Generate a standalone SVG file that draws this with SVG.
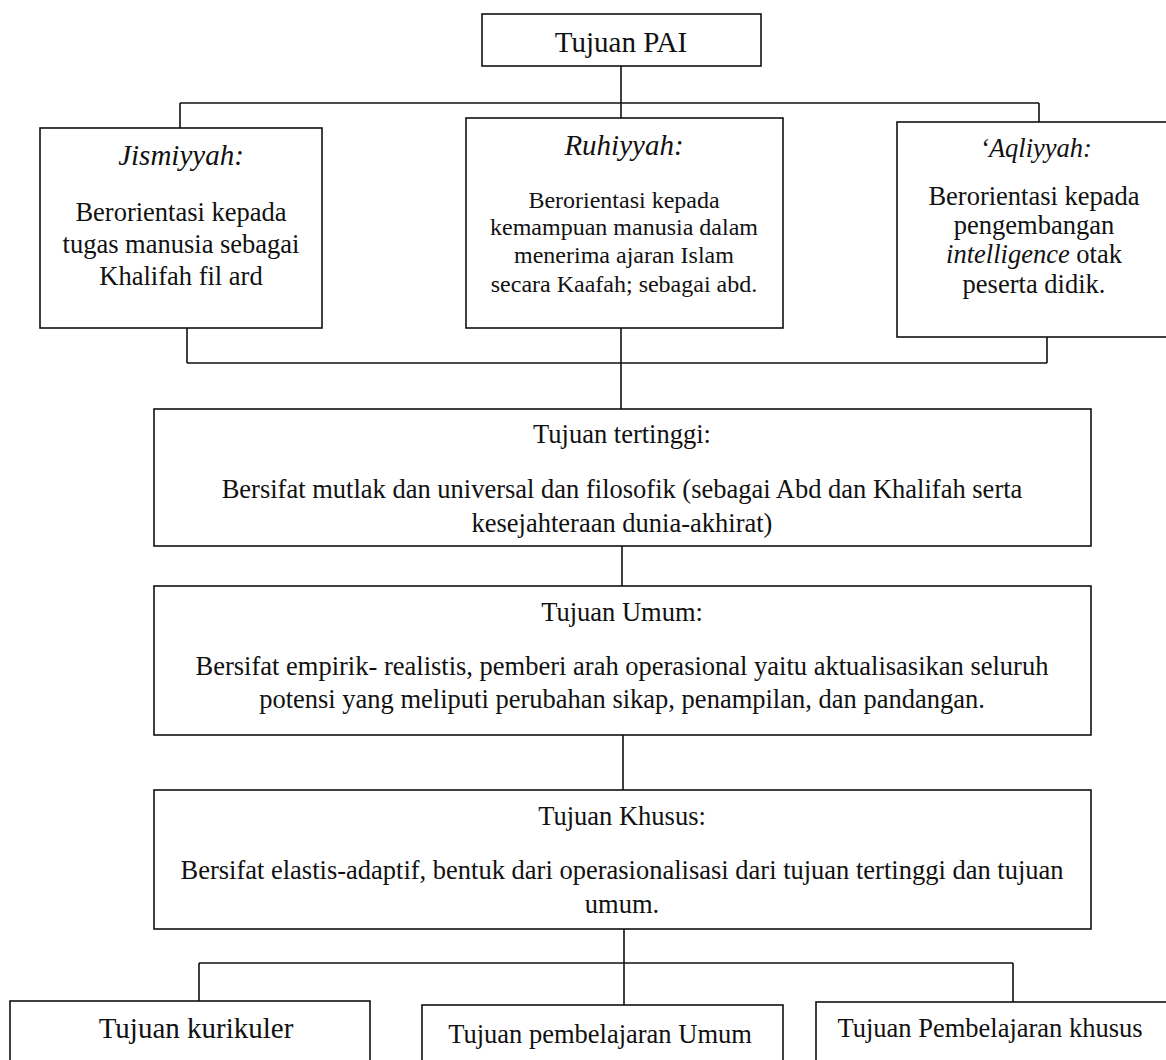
<svg xmlns="http://www.w3.org/2000/svg" width="1166" height="1060" viewBox="0 0 1166 1060">
<style>
.box{fill:#fff;stroke:#111;stroke-width:1.6}
.ln{fill:none;stroke:#111;stroke-width:1.6}
text{font-family:"Liberation Serif","Times New Roman",serif;fill:#111;text-anchor:middle}
.t29{font-size:29px}
.t27{font-size:26.5px}
.t24{font-size:24px}
.it{font-style:italic}
</style>
<rect width="1166" height="1060" fill="#fff"/>
<g id="connectors">
<path class="ln" d="M621,66 V118 M180,103 H1039 M180,103 V128 M1039,103 V122"/>
<path class="ln" d="M187,328 V363 M187,363 H1047 M1047,337 V363 M621,328 V409"/>
<path class="ln" d="M622,546 V586 M623,735 V790"/>
<path class="ln" d="M624,929 V1005 M199,963 H1013 M199,963 V1001 M1013,963 V1002"/>
</g>
<g id="node-pai">
<rect class="box" x="482" y="14" width="279" height="52"/>
<text class="t29" x="621" y="52">Tujuan PAI</text>
</g>
<g id="node-jismiyyah">
<rect class="box" x="40" y="128" width="282" height="200"/>
<text class="t29 it" x="181" y="165">Jismiyyah:</text>
<text class="t27" x="181" y="221">Berorientasi kepada</text>
<text class="t27" x="181" y="253">tugas manusia sebagai</text>
<text class="t27" x="181" y="285">Khalifah fil ard</text>
</g>
<g id="node-ruhiyyah">
<rect class="box" x="466" y="118" width="317" height="210"/>
<text class="t29 it" x="624" y="155">Ruhiyyah:</text>
<text class="t24" x="624" y="208">Berorientasi kepada</text>
<text class="t24" x="624" y="235">kemampuan manusia dalam</text>
<text class="t24" x="624" y="263">menerima ajaran Islam</text>
<text class="t24" x="624" y="292">secara Kaafah; sebagai abd.</text>
</g>
<g id="node-aqliyyah">
<rect class="box" x="897" y="122" width="275" height="215"/>
<text class="t27 it" x="1036" y="157">‘Aqliyyah:</text>
<text class="t27" x="1034" y="205">Berorientasi kepada</text>
<text class="t27" x="1034" y="234">pengembangan</text>
<text class="t27" x="1034" y="263"><tspan class="it">intelligence</tspan> otak</text>
<text class="t27" x="1034" y="293">peserta didik.</text>
</g>
<g id="node-tertinggi">
<rect class="box" x="154" y="409" width="937" height="137"/>
<text class="t27" x="622" y="443">Tujuan tertinggi:</text>
<text class="t27" x="622" y="498">Bersifat mutlak dan universal dan filosofik (sebagai Abd dan Khalifah serta</text>
<text class="t27" x="622" y="532">kesejahteraan dunia-akhirat)</text>
</g>
<g id="node-umum">
<rect class="box" x="154" y="586" width="937" height="149"/>
<text class="t27" x="622" y="621">Tujuan Umum:</text>
<text class="t27" x="622" y="675">Bersifat empirik- realistis, pemberi arah operasional yaitu aktualisasikan seluruh</text>
<text class="t27" x="622" y="708">potensi yang meliputi perubahan sikap, penampilan, dan pandangan.</text>
</g>
<g id="node-khusus">
<rect class="box" x="154" y="790" width="937" height="139"/>
<text class="t27" x="622" y="825">Tujuan Khusus:</text>
<text class="t27" x="622" y="879">Bersifat elastis-adaptif, bentuk dari operasionalisasi dari tujuan tertinggi dan tujuan</text>
<text class="t27" x="622" y="913">umum.</text>
</g>
<g id="node-kurikuler">
<rect class="box" x="10" y="1001" width="360" height="70"/>
<text class="t29" x="196" y="1038">Tujuan kurikuler</text>
</g>
<g id="node-pemb-umum">
<rect class="box" x="422" y="1005" width="361" height="70"/>
<text class="t27" x="600" y="1043">Tujuan pembelajaran Umum</text>
</g>
<g id="node-pemb-khusus">
<rect class="box" x="816" y="1002" width="360" height="70"/>
<text class="t27" x="990" y="1037">Tujuan Pembelajaran khusus</text>
</g>
</svg>
